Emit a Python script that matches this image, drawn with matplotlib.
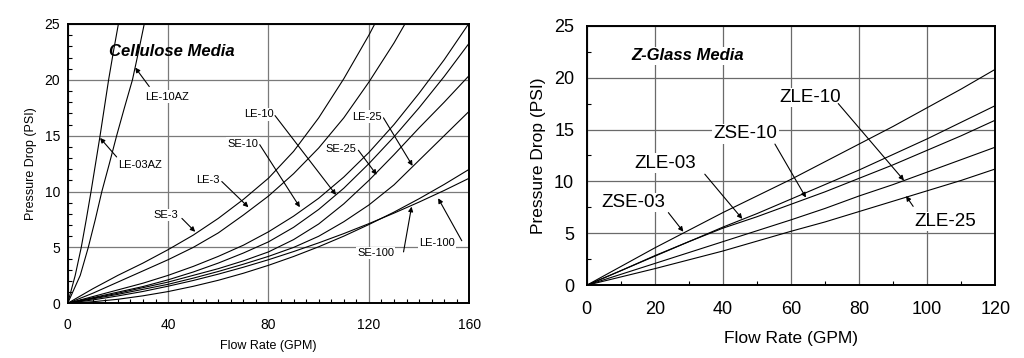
import numpy as np
import matplotlib
matplotlib.use("Agg")
import matplotlib.pyplot as plt
from matplotlib.ticker import MultipleLocator

plt.rcParams['font.family'] = ['Liberation Sans', 'DejaVu Sans']

# ---- Cellulose media (left) ----
flow = [0, 10, 20, 30, 40, 50, 60, 70, 80, 90, 100, 110, 120, 130, 140, 150, 160]
se_3 = [0, 1.3, 2.5, 3.6, 4.8, 6.1, 7.6, 9.3, 11.2, 13.6, 16.6, 20.1, 24.0, 28.3, 33, 38, 43]
le_3 = [0, 0.9, 1.9, 2.9, 3.9, 5.0, 6.3, 7.9, 9.6, 11.6, 13.9, 16.6, 19.8, 23.3, 27.2, 31.5, 36]
se_10 = [0, 0.6, 1.2, 1.8, 2.5, 3.3, 4.2, 5.2, 6.4, 7.8, 9.4, 11.3, 13.5, 16.0, 18.8, 21.8, 25.1]
le_10 = [0, 0.5, 1.0, 1.5, 2.1, 2.8, 3.6, 4.5, 5.5, 6.8, 8.4, 10.3, 12.5, 14.9, 17.5, 20.3, 23.3]
se_25 = [0, 0.45, 0.9, 1.4, 1.9, 2.5, 3.1, 3.8, 4.6, 5.7, 7.1, 8.9, 11.0, 13.3, 15.7, 18.0, 20.4]
le_25 = [0, 0.4, 0.8, 1.25, 1.7, 2.25, 2.85, 3.5, 4.2, 5.0, 6.0, 7.3, 8.8, 10.6, 12.8, 15.0, 17.2]
se_100 = [0, 0.14, 0.36, 0.67, 1.05, 1.52, 2.06, 2.69, 3.4, 4.19, 5.06, 6.01, 7.05, 8.16, 9.36, 10.64, 12.0]
le_100 = [0, 0.30, 0.66, 1.06, 1.53, 2.04, 2.61, 3.23, 3.9, 4.63, 5.41, 6.24, 7.13, 8.07, 9.06, 10.1, 11.2]

az_psi = [0, 2.5, 5, 7.5, 10, 12.5, 15, 17.5, 20, 22.5, 25]
le_03az_flow = [0, 3.0, 5.4, 7.4, 9.3, 11.1, 12.9, 14.6, 16.3, 18.2, 20.2]
le_10az_flow = [0, 5.0, 8.2, 11.0, 13.6, 16.6, 19.5, 22.6, 25.8, 28.2, 30.5]

# ---- Z-glass media (right) ----
zflow = [0, 10, 20, 30, 40, 50, 60, 70, 80, 90, 100, 110, 120]
zse_03 = [0, 1.8, 3.6, 5.3, 7.0, 8.6, 10.2, 11.9, 13.6, 15.3, 17.1, 18.9, 20.8]
zse_10 = [0, 1.4, 2.85, 4.2, 5.6, 6.9, 8.3, 9.7, 11.1, 12.6, 14.1, 15.7, 17.3]
zle_03 = [0, 1.4, 2.8, 4.2, 5.5, 6.6, 7.8, 9.0, 10.3, 11.6, 13.0, 14.4, 15.9]
zle_10 = [0, 1.05, 2.1, 3.15, 4.2, 5.25, 6.3, 7.4, 8.6, 9.7, 10.9, 12.1, 13.3]
zle_25 = [0, 0.8, 1.6, 2.45, 3.3, 4.25, 5.2, 6.1, 7.1, 8.1, 9.1, 10.1, 11.2]

fig = plt.figure(figsize=(10.24, 3.58), dpi=100)
ax1 = fig.add_axes([0.0661, 0.1528, 0.3922, 0.7802])
ax2 = fig.add_axes([0.5729, 0.2031, 0.3990, 0.7251])

lw = 0.8
arrow = dict(arrowstyle='-|>', lw=0.8, color='black', mutation_scale=7,
             shrinkA=0, shrinkB=0)
box = dict(facecolor='white', edgecolor='none', pad=1.0)

# left chart
for y in [se_3, le_3, se_10, le_10, se_25, le_25, se_100, le_100]:
    ax1.plot(flow, y, color='black', lw=lw, zorder=3)
ax1.plot(le_03az_flow, az_psi, color='black', lw=lw, zorder=3)
ax1.plot(le_10az_flow, az_psi, color='black', lw=lw, zorder=3)

ax1.set_xlim(0, 160)
ax1.set_ylim(0, 25)
ax1.set_xticks([0, 40, 80, 120, 160])
ax1.set_yticks([0, 5, 10, 15, 20, 25])
ax1.xaxis.set_minor_locator(MultipleLocator(5))
ax1.yaxis.set_minor_locator(MultipleLocator(1))
ax1.tick_params(which='both', direction='in', labelsize=10, width=0.8)
ax1.tick_params(which='major', length=0)
ax1.tick_params(axis='x', which='major', pad=10.5)
ax1.tick_params(axis='y', which='major', pad=5.5)
ax1.tick_params(which='minor', length=3)
ax1.grid(True, which='major', color='#7a7a7a', lw=0.9)
ax1.set_xlabel('Flow Rate (GPM)', fontsize=9, labelpad=6)
ax1.set_ylabel('Pressure Drop (PSI)', fontsize=9, labelpad=5)
for s in ax1.spines.values():
    s.set_linewidth(1.4)

ax1.text(41.5, 22.5, 'Cellulose Media', fontsize=12, fontweight='bold',
         fontstyle='italic', ha='center', va='center', zorder=4)

left_labels = [
    ('LE-10AZ', (30.8, 18.5), (26.9, 21.1), (32.5, 19.4), 'left'),
    ('LE-03AZ', (20.1, 12.4), (12.9, 14.8), (19.5, 13.1), 'left'),
    ('LE-10', (82.0, 16.9), (106.9, 9.7), (82.6, 16.8), 'right'),
    ('SE-10', (75.9, 14.3), (92.5, 8.6), (76.5, 14.2), 'right'),
    ('LE-25', (125.1, 16.7), (137.4, 12.3), (125.8, 16.6), 'right'),
    ('SE-25', (115.1, 13.8), (123.1, 11.5), (115.8, 13.7), 'right'),
    ('LE-3', (60.7, 11.0), (72.0, 8.6), (61.4, 10.9), 'right'),
    ('SE-3', (44.1, 7.9), (50.8, 6.4), (45.5, 7.6), 'right'),
    ('SE-100', (130.0, 4.5), (137.0, 8.65), (133.8, 4.6), 'right'),
    ('LE-100', (154.3, 5.4), (147.6, 9.4), (157.0, 5.6), 'right'),
]
for name, tpos, head, tail, ha in left_labels:
    ax1.text(tpos[0], tpos[1], name, fontsize=8, ha=ha, va='center',
             bbox=box, zorder=2)
    ax1.annotate('', xy=head, xytext=tail, arrowprops=arrow, zorder=5)

# right chart
for y in [zse_03, zse_10, zle_03, zle_10, zle_25]:
    ax2.plot(zflow, y, color='black', lw=lw, zorder=3)

ax2.set_xlim(0, 120)
ax2.set_ylim(0, 25)
ax2.set_xticks([0, 20, 40, 60, 80, 100, 120])
ax2.set_yticks([0, 5, 10, 15, 20, 25])
ax2.xaxis.set_minor_locator(MultipleLocator(10))
ax2.yaxis.set_minor_locator(MultipleLocator(2.5))
ax2.tick_params(which='both', direction='in', labelsize=13, width=0.8)
ax2.tick_params(which='major', length=0)
ax2.tick_params(axis='x', which='major', pad=11.5)
ax2.tick_params(axis='y', which='major', pad=9)
ax2.tick_params(which='minor', length=3)
ax2.grid(True, which='major', color='#6a6a6a', lw=0.9)
ax2.set_xlabel('Flow Rate (GPM)', fontsize=12.5, labelpad=9)
ax2.set_ylabel('Pressure Drop (PSI)', fontsize=12.5, labelpad=6)
for s in ax2.spines.values():
    s.set_linewidth(1.4)

ax2.text(29.8, 22.1, 'Z-Glass Media', fontsize=12, fontweight='bold',
         fontstyle='italic', ha='center', va='center', bbox=box, zorder=4)

right_labels = [
    ('ZLE-10', (65.8, 18.1), (93.2, 10.1), (73.9, 17.5)),
    ('ZSE-10', (46.7, 14.6), (64.4, 8.45), (55.3, 13.6)),
    ('ZLE-03', (23.2, 11.75), (45.7, 6.4), (34.7, 10.7)),
    ('ZSE-03', (13.7, 7.96), (28.4, 5.16), (24.0, 7.0)),
    ('ZLE-25', (105.4, 6.13), (93.8, 8.6), (95.9, 7.6)),
]
for name, tpos, head, tail in right_labels:
    ax2.text(tpos[0], tpos[1], name, fontsize=13.5, ha='center', va='center',
             bbox=box, zorder=2)
    ax2.annotate('', xy=head, xytext=tail, arrowprops=arrow, zorder=5)

fig.savefig('out.png', dpi=100)
